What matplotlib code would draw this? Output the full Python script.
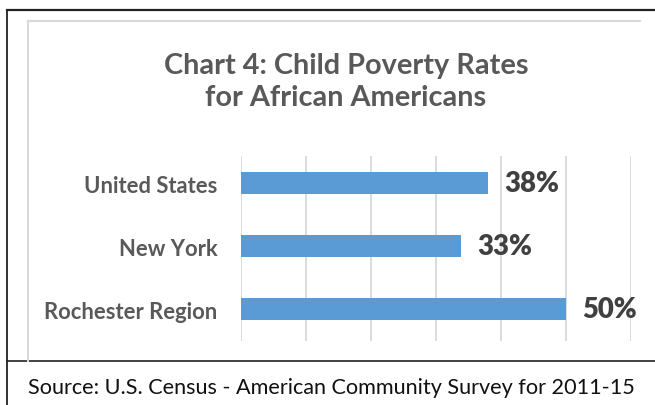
import numpy as np
import matplotlib
matplotlib.use("Agg")
import matplotlib.pyplot as plt
from matplotlib.lines import Line2D

plt.rcParams['font.family'] = ['Lato', 'DejaVu Sans']

# data (bottom to top, as drawn)
regions = ["Rochester Region", "New York", "United States"]
rates = [50.0, 33.9, 38.0]
rate_labels = ["50%", "33%", "38%"]
grid_ticks = [0, 10, 20, 30, 40, 50, 60]

title = "Chart 4: Child Poverty Rates\nfor African Americans"
source = "Source: U.S. Census - American Community Survey for 2011-15"

W, H = 655, 406
fig = plt.figure(figsize=(W / 100, H / 100), dpi=100)

def px(x, y):
    return x / W, 1 - y / H

# frame lines (black outer box + grey chart border)
def hline(y, x0, x1, c, lw):
    fig.add_artist(Line2D([x0 / W, x1 / W], [1 - y / H, 1 - y / H], color=c, lw=lw))

def vline(x, y0, y1, c, lw):
    fig.add_artist(Line2D([x / W, x / W], [1 - y0 / H, 1 - y1 / H], color=c, lw=lw))

hline(11, 7, 655, "#222222", 1.6)
vline(7, 11, 406, "#222222", 1.3)
hline(362, 7, 655, "#222222", 1.2)
hline(22, 28, 640, "#D9D9D9", 1.5)
vline(28, 22, 362, "#D9D9D9", 1.5)

ax = fig.add_axes([241 / W, 1 - 342 / H, 390 / W, 185 / H])
y = np.arange(len(regions))
ax.barh(y, rates, height=0.35, color="#5B9BD5", zorder=3)
ax.set_xlim(0, 60)
ax.set_ylim(-0.5, 2.43)
ax.set_xticks(grid_ticks)
ax.xaxis.grid(True, color="#D9D9D9", lw=1.3, zorder=0)
ax.tick_params(axis="x", length=0, labelbottom=False)
ax.set_yticks(y)
ax.set_yticklabels(regions, fontsize=15.8, fontweight="bold", color="#595959")
ax.tick_params(axis="y", length=0, pad=17)
for s in ax.spines.values():
    s.set_visible(False)

for yi, v, lab in zip(y, rates, rate_labels):
    ax.annotate(lab, (v, yi), xytext=(11.5, 0), textcoords="offset points",
                va="center", ha="left", fontsize=19.8, fontweight="heavy", color="#404040")

fig.text(*px(346, 82), title, ha="center", va="center", fontsize=20.8,
         fontweight="bold", color="#595959", linespacing=1.32)
fig.text(*px(28, 388), source, ha="left", va="center", fontsize=15.6, color="#111111")

fig.savefig("out.png", dpi=100)
